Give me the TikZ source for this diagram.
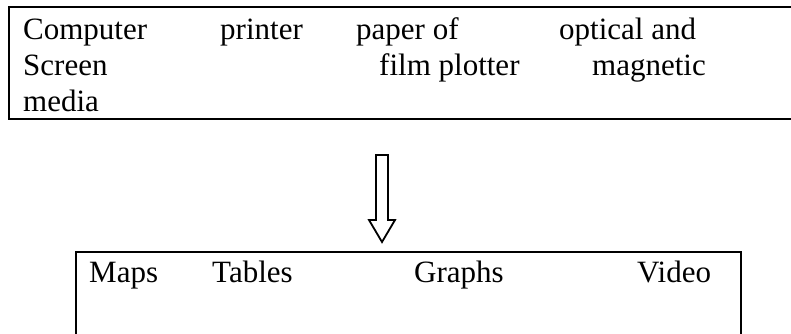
\documentclass[tikz,border=0pt]{standalone}
\usepackage{fontspec}
\setmainfont{Liberation Serif}
\begin{document}
\begin{tikzpicture}[x=1bp,y=-1bp,
  boxline/.style={draw=black,line width=2.6bp},
  lbl/.style={anchor=base west,inner sep=0pt,font=\fontsize{31bp}{36bp}\selectfont},
  hollowarrow/.style={draw=black,line width=1.8bp,fill=white,line join=miter}]
\useasboundingbox (0,0) rectangle (791,333);
% top box
\draw[boxline] (9,7) rectangle (800,119);
\node[lbl] (computer) at (23,39) {Computer};
\node[lbl] (printer) at (220,39) {printer};
\node[lbl] (paperof) at (356,39) {paper of};
\node[lbl] (optical) at (559,39) {optical and};
\node[lbl] (screen) at (23,75) {Screen};
\node[lbl] (film) at (379,75) {film plotter};
\node[lbl] (magnetic) at (592,75) {magnetic};
\node[lbl] (media) at (23,111) {media};
% arrow
\coordinate (atop) at (382,155);
\coordinate (atip) at (382,242);
\draw[hollowarrow] (376,155) -- (388,155) -- (388,220) -- (395,220) -- (atip) -- (369,220) -- (376,220) -- cycle;
% bottom box
\draw[boxline] (76,252) rectangle (741,345);
\node[lbl] (maps) at (89,282) {Maps};
\node[lbl] (tables) at (212,282) {Tables};
\node[lbl] (graphs) at (414,282) {Graphs};
\node[lbl] (video) at (637,282) {Video};
\end{tikzpicture}
\end{document}
